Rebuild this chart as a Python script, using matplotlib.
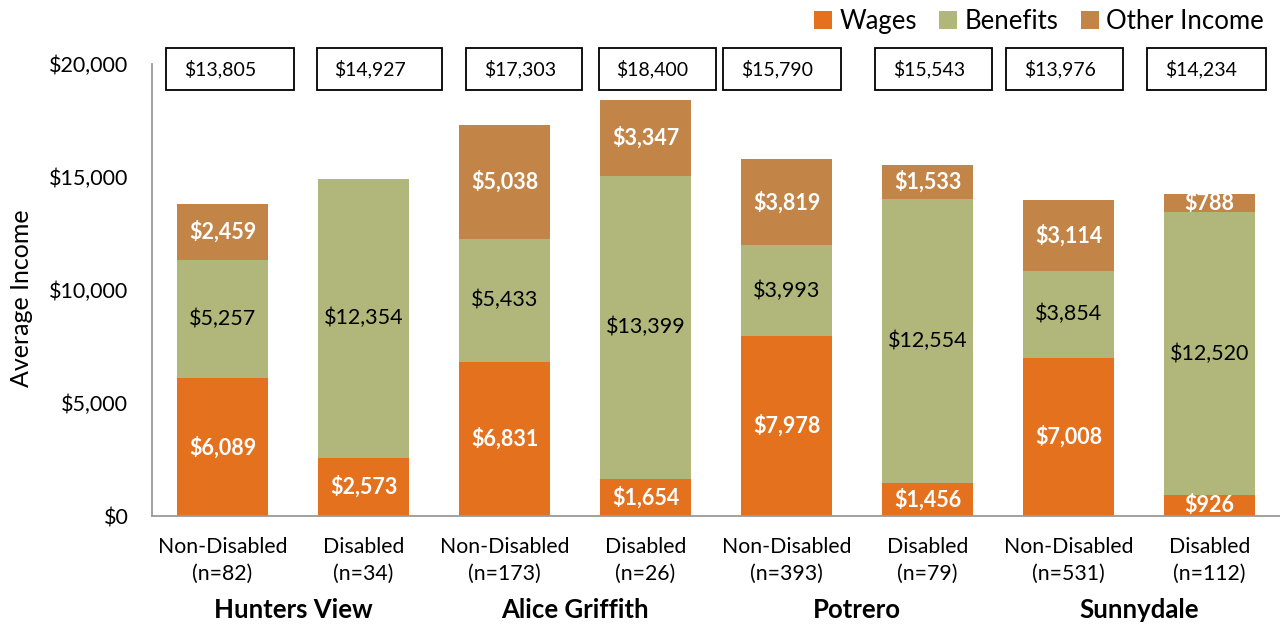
import matplotlib
matplotlib.use("Agg")
import matplotlib.pyplot as plt
import matplotlib.transforms as mtransforms
from matplotlib.patches import Rectangle
from matplotlib.ticker import FuncFormatter

plt.rcParams["font.family"] = ["Lato", "DejaVu Sans"]

sites = ["Hunters View", "Alice Griffith", "Potrero", "Sunnydale"]
groups = ["Non-Disabled", "Disabled"] * 4
n_sizes = [82, 34, 173, 26, 393, 79, 531, 112]
wages = [6089, 2573, 6831, 1654, 7978, 1456, 7008, 926]
benefits = [5257, 12354, 5433, 13399, 3993, 12554, 3854, 12520]
other = [2459, 0, 5038, 3347, 3819, 1533, 3114, 788]
totals = [13805, 14927, 17303, 18400, 15790, 15543, 13976, 14234]

# hand placement of the total boxes (left edge relative to bar, width), as on the slide
box_left = [-0.40, -0.33, -0.27, -0.33, -0.45, -0.37, -0.44, -0.44]
box_width = [0.91, 0.89, 0.82, 0.83, 0.84, 0.83, 0.83, 0.84]

c_wages = "#E4711E"
c_benefits = "#B1B77B"
c_other = "#C38447"

fig = plt.figure(figsize=(12.8, 6.26), dpi=100)
ax = fig.add_axes([0.11875, 0.1757, 0.88125, 0.7221])

x = list(range(len(wages)))
width = 0.65
bottom2 = [w + b for w, b in zip(wages, benefits)]
ax.bar(x, wages, width, color=c_wages, label="Wages")
ax.bar(x, benefits, width, bottom=wages, color=c_benefits, label="Benefits")
ax.bar(x, other, width, bottom=bottom2, color=c_other, label="Other Income")

for i in x:
    ax.text(i, wages[i] / 2, f"${wages[i]:,}", ha="center", va="center",
            color="white", fontweight="bold", fontsize=15.5)
    ax.text(i, wages[i] + benefits[i] / 2, f"${benefits[i]:,}", ha="center",
            va="center", color="black", fontsize=15.5)
    if other[i] > 0:
        ax.text(i, bottom2[i] + other[i] / 2, f"${other[i]:,}", ha="center",
                va="center", color="white", fontweight="bold", fontsize=15.5)

# total boxes
for i in x:
    left = i + box_left[i]
    ax.add_patch(Rectangle((left, 18850), box_width[i], 1850, facecolor="white",
                           edgecolor="black", linewidth=1.3, clip_on=False, zorder=5))
    ax.text(left + 0.125, 19780, f"${totals[i]:,}", ha="left", va="center",
            fontsize=14, zorder=6, clip_on=False)

ax.set_xlim(-0.5, 7.5)
ax.set_ylim(0, 20000)
ax.set_yticks([0, 5000, 10000, 15000, 20000])
ax.yaxis.set_major_formatter(FuncFormatter(lambda v, p: f"${v:,.0f}"))
ax.set_xticks(x)
ax.set_xticklabels([f"{g}\n(n={n})" for g, n in zip(groups, n_sizes)],
                   linespacing=1.45)
ax.tick_params(axis="x", length=0, pad=15, labelsize=15.3)
ax.tick_params(axis="y", length=0, pad=17, labelsize=15.5)
ax.set_ylabel("Average Income", fontsize=18)
ax.yaxis.set_label_coords(-0.1055, 0.482)

for s in ["top", "right"]:
    ax.spines[s].set_visible(False)
for s in ["left", "bottom"]:
    ax.spines[s].set_color("#9a9a9a")
    ax.spines[s].set_linewidth(1.3)

trans = mtransforms.blended_transform_factory(ax.transData, ax.transAxes)
for k, site in enumerate(sites):
    ax.text(2 * k + 0.5, -0.208, site, transform=trans, ha="center", va="center",
            fontsize=18.5, fontweight="bold")

ax.legend(loc="upper right", bbox_to_anchor=(0.995, 1.145), ncol=3, frameon=False,
          fontsize=18.5, handlelength=0.7, handleheight=0.7, handletextpad=0.3,
          columnspacing=0.85, borderaxespad=0)

fig.savefig("out.png", dpi=100)
